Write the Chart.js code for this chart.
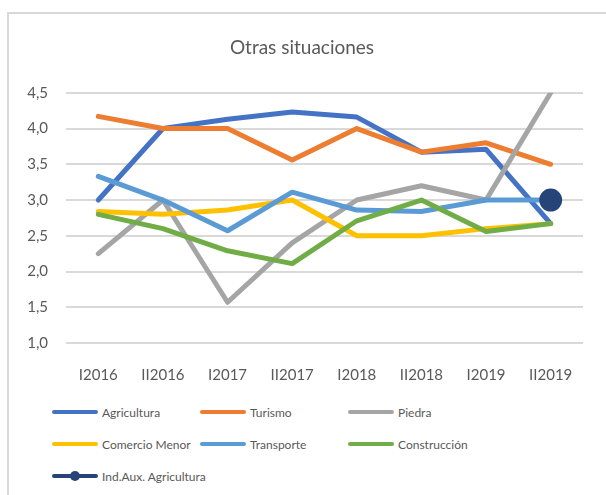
<!DOCTYPE html>
<html lang="es">
<head>
<meta charset="UTF-8">
<title>Otras situaciones</title>
<style>
  body { margin: 0; background: #fff; font-family: Lato, "Open Sans", sans-serif; }
  .marco { position: absolute; left: 7px; top: 12px; width: 620px; height: 500px;
           border-left: 2px solid #d9d9d9; border-top: 2px solid #d9d9d9; }
  .grafico { position: absolute; left: 0; top: 0; width: 606px; height: 395px; }
  .leyenda { position: absolute; left: 52px; top: 402px; display: grid;
             grid-template-columns: 148px 148px 180px; grid-auto-rows: 32px; }
  .item { display: flex; align-items: center; font-size: 12px; color: #595959; height: 20px; white-space: nowrap; }
  .linea { position: relative; flex: none; width: 46px; height: 4px; border-radius: 2px; margin-right: 4px; }
  .punto { position: absolute; left: 18px; top: -3px; width: 10px; height: 10px; border-radius: 50%; }
</style>
</head>
<body>
<div class="marco"></div>
<div class="grafico"><canvas id="grafico"></canvas></div>
<div class="leyenda" id="leyenda"></div>

<script src="https://cdn.jsdelivr.net/npm/chart.js"></script>
<script>
  const periodos = ['I2016', 'II2016', 'I2017', 'II2017', 'I2018', 'II2018', 'I2019', 'II2019'];

  const agricultura = [3.0, 4.0, 4.13, 4.23, 4.16, 3.67, 3.71, 2.67];
  const turismo = [4.17, 4.0, 4.0, 3.56, 4.0, 3.67, 3.8, 3.5];
  const piedra = [2.25, 3.0, 1.57, 2.4, 3.0, 3.2, 3.0, 4.5];
  const comercioMenor = [2.84, 2.8, 2.86, 3.0, 2.5, 2.5, 2.6, 2.67];
  const transporte = [3.33, 3.0, 2.57, 3.11, 2.86, 2.84, 3.0, 3.0];
  const construccion = [2.8, 2.6, 2.29, 2.11, 2.71, 3.0, 2.56, 2.67];
  const indAuxAgricultura = [null, null, null, null, null, null, null, 3.0];

  const series = [
    { nombre: 'Agricultura', datos: agricultura, color: '#4472C4' },
    { nombre: 'Turismo', datos: turismo, color: '#ED7D31' },
    { nombre: 'Piedra', datos: piedra, color: '#A5A5A5' },
    { nombre: 'Comercio Menor', datos: comercioMenor, color: '#FFC000' },
    { nombre: 'Transporte', datos: transporte, color: '#5B9BD5' },
    { nombre: 'Construcción', datos: construccion, color: '#70AD47' },
    { nombre: 'Ind.Aux. Agricultura', datos: indAuxAgricultura, color: '#264478', marcador: true }
  ];

  const datasets = series.map((s, i) => ({
    label: s.nombre,
    data: s.datos,
    borderColor: s.color,
    backgroundColor: s.color,
    borderWidth: 5,
    borderCapStyle: 'round',
    borderJoinStyle: 'round',
    tension: 0,
    pointRadius: s.marcador ? 9 : 0,
    pointHoverRadius: s.marcador ? 9 : 0,
    order: series.length - i // las últimas series quedan encima, como en Excel
  }));

  new Chart(document.getElementById('grafico'), {
    type: 'line',
    data: { labels: periodos, datasets: datasets },
    options: {
      responsive: true,
      maintainAspectRatio: false,
      animation: false,
      layout: { padding: { left: 0, right: 2, top: 0, bottom: 0 } },
      scales: {
        x: {
          offset: true,
          grid: { display: false },
          border: { display: false },
          ticks: { color: '#595959', padding: 15, maxRotation: 0,
                   font: { family: 'Lato, sans-serif', size: 15 } },
          afterFit: function (scale) { scale.height = 52; }
        },
        y: {
          min: 1, max: 4.5,
          grid: { color: '#d9d9d9', lineWidth: 2, drawTicks: false },
          border: { display: false },
          ticks: {
            stepSize: 0.5, color: '#595959', padding: 18,
            font: { family: 'Lato, sans-serif', size: 15 },
            callback: function (v) { return v.toFixed(1).replace('.', ','); }
          },
          afterFit: function (scale) { scale.width = 66; }
        },
        // eje vacío a la derecha para dejar el margen sin descentrar el título
        derecha: {
          position: 'right',
          grid: { display: false },
          border: { display: false },
          ticks: { display: false },
          afterFit: function (scale) { scale.width = 21; }
        }
      },
      plugins: {
        legend: { display: false },
        tooltip: { enabled: false },
        title: {
          display: true,
          text: 'Otras situaciones',
          color: '#595959',
          font: { family: 'Lato, sans-serif', size: 19, weight: 'normal', lineHeight: 1.2 },
          padding: { top: 36, bottom: 34 }
        }
      }
    }
  });

  // leyenda en tres columnas, como en el original
  const leyenda = document.getElementById('leyenda');
  series.forEach(s => {
    const item = document.createElement('div');
    item.className = 'item';
    const linea = document.createElement('span');
    linea.className = 'linea';
    linea.style.background = s.color;
    if (s.marcador) {
      const punto = document.createElement('span');
      punto.className = 'punto';
      punto.style.background = s.color;
      linea.appendChild(punto);
    }
    item.appendChild(linea);
    item.appendChild(document.createTextNode(s.nombre));
    leyenda.appendChild(item);
  });
</script>
</body>
</html>
